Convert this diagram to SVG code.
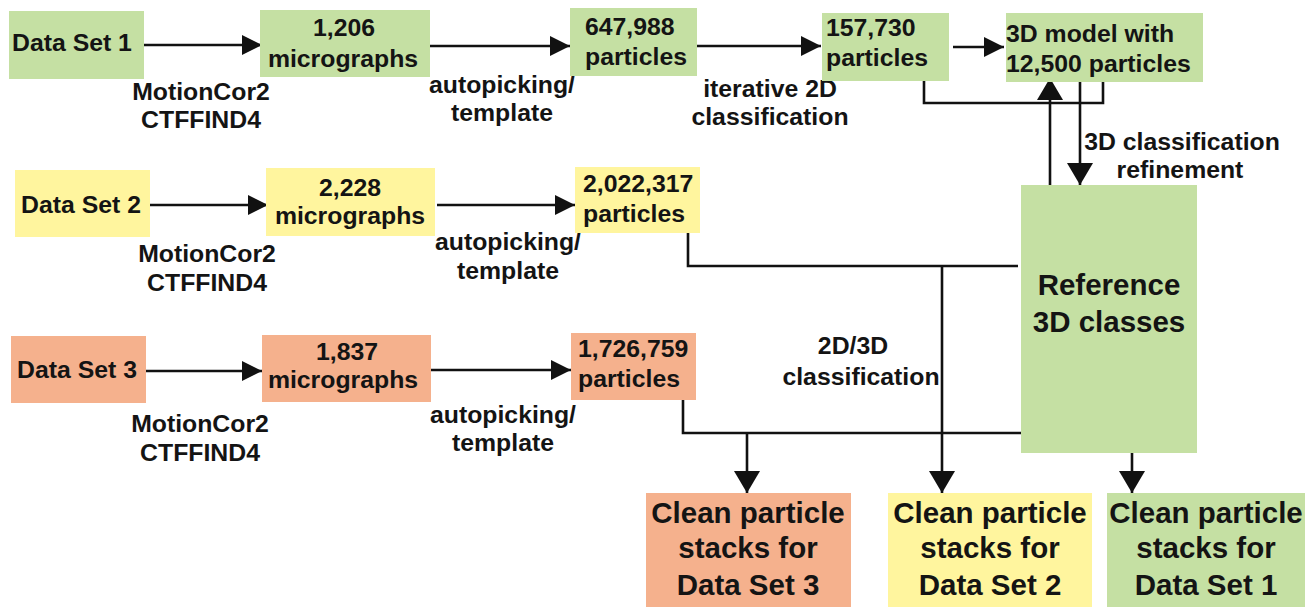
<svg xmlns="http://www.w3.org/2000/svg" width="1311" height="607" viewBox="0 0 1311 607">
<defs>
<style>
text{font-family:"Liberation Sans",Arial,sans-serif;font-weight:bold;fill:#141414;}
.t{font-size:24.8px;}
.b{font-size:29.5px;}
.m{text-anchor:middle;}
.g{fill:#c5e0a3;}
.y{fill:#fff59e;}
.o{fill:#f5b18d;}
.c{stroke:#111;stroke-width:2.6;fill:none;}
</style>
<marker id="ah" viewBox="0 0 20 20" refX="20" refY="10" markerUnits="userSpaceOnUse" markerWidth="20" markerHeight="20" orient="auto">
<path d="M0,0 L20,10 L0,20 z" fill="#111"/>
</marker>
<marker id="av" viewBox="0 0 22 26" refX="22" refY="13" markerUnits="userSpaceOnUse" markerWidth="22" markerHeight="26" orient="auto">
<path d="M0,0 L22,13 L0,26 z" fill="#111"/>
</marker>
</defs>

<g id="connectors">
<line class="c" x1="137" y1="45" x2="262" y2="45" marker-end="url(#ah)"/>
<line class="c" x1="430" y1="46" x2="570" y2="46" marker-end="url(#ah)"/>
<line class="c" x1="697" y1="46" x2="821" y2="46" marker-end="url(#ah)"/>
<line class="c" x1="953" y1="47" x2="1004" y2="47" marker-end="url(#ah)"/>
<polyline class="c" points="924,80 924,103 1103,103 1103,82"/>
<line class="c" x1="1050" y1="185" x2="1050" y2="78" marker-end="url(#av)"/>
<line class="c" x1="1080" y1="82" x2="1080" y2="185" marker-end="url(#av)"/>

<line class="c" x1="142" y1="205" x2="268" y2="205" marker-end="url(#ah)"/>
<line class="c" x1="437" y1="205" x2="575" y2="205" marker-end="url(#ah)"/>
<polyline class="c" points="688,228 688,266 1018,266"/>
<line class="c" x1="942" y1="266" x2="942" y2="493" marker-end="url(#av)"/>

<line class="c" x1="140" y1="371" x2="262" y2="371" marker-end="url(#ah)"/>
<line class="c" x1="431" y1="370" x2="571" y2="370" marker-end="url(#ah)"/>
<polyline class="c" points="683,400 683,433 1022,433"/>
<line class="c" x1="747" y1="433" x2="747" y2="493" marker-end="url(#av)"/>
<line class="c" x1="1132" y1="451" x2="1132" y2="493" marker-end="url(#av)"/>
</g>

<g id="labels">
<text class="t m" x="201" y="100">MotionCor2</text>
<text class="t m" x="201" y="128">CTFFIND4</text>
<text class="t m" x="502" y="93">autopicking/</text>
<text class="t m" x="502" y="121">template</text>
<text class="t m" x="770" y="97">iterative 2D</text>
<text class="t m" x="770" y="125">classification</text>
<text class="t m" x="1182" y="150">3D classification</text>
<text class="t m" x="1180" y="178">refinement</text>
<text class="t m" x="207" y="262">MotionCor2</text>
<text class="t m" x="207" y="291">CTFFIND4</text>
<text class="t m" x="508" y="250">autopicking/</text>
<text class="t m" x="508" y="279">template</text>
<text class="t m" x="200" y="432">MotionCor2</text>
<text class="t m" x="200" y="461">CTFFIND4</text>
<text class="t m" x="503" y="423">autopicking/</text>
<text class="t m" x="503" y="451">template</text>
<text class="t m" x="853" y="354">2D/3D</text>
<text class="t m" x="861" y="385">classification</text>
</g>

<g id="ds1"><rect class="g" x="9" y="11" width="135" height="68"/><text class="t" x="12" y="51">Data Set 1</text></g>
<g id="mic1"><rect class="g" x="260" y="10" width="170" height="67"/><text class="t m" x="344" y="36">1,206</text><text class="t m" x="343" y="67">micrographs</text></g>
<g id="par1"><rect class="g" x="570" y="8" width="127" height="68"/><text class="t" x="585" y="35">647,988</text><text class="t" x="585" y="65">particles</text></g>
<g id="par1b"><rect class="g" x="822" y="13" width="127" height="68"/><text class="t" x="826" y="36">157,730</text><text class="t" x="826" y="66">particles</text></g>
<g id="model"><rect class="g" x="1006" y="13" width="197" height="69"/><text class="t" x="1006" y="42">3D model with</text><text class="t" x="1006" y="72">12,500 particles</text></g>

<g id="ds2"><rect class="y" x="15" y="170" width="135" height="67"/><text class="t m" x="81" y="213">Data Set 2</text></g>
<g id="mic2"><rect class="y" x="266" y="168" width="169" height="68"/><text class="t m" x="350" y="196">2,228</text><text class="t m" x="350" y="224">micrographs</text></g>
<g id="par2"><rect class="y" x="575" y="167" width="125" height="66"/><text class="t" x="583" y="192">2,022,317</text><text class="t" x="583" y="222">particles</text></g>

<g id="ds3"><rect class="o" x="11" y="336" width="135" height="67"/><text class="t m" x="77" y="378">Data Set 3</text></g>
<g id="mic3"><rect class="o" x="262" y="335" width="169" height="67"/><text class="t m" x="347" y="360">1,837</text><text class="t m" x="343" y="388">micrographs</text></g>
<g id="par3"><rect class="o" x="571" y="333" width="125" height="67"/><text class="t" x="578" y="357">1,726,759</text><text class="t" x="578" y="387">particles</text></g>

<g id="ref"><rect class="g" x="1021" y="185" width="176" height="268"/><text class="b m" x="1109" y="295">Reference</text><text class="b m" x="1109" y="332">3D classes</text></g>

<g id="clean3"><rect class="o" x="646" y="493" width="205" height="114"/><text class="b m" x="748" y="523">Clean particle</text><text class="b m" x="748" y="558">stacks for</text><text class="b m" x="748" y="595">Data Set 3</text></g>
<g id="clean2"><rect class="y" x="888" y="493" width="204" height="114"/><text class="b m" x="990" y="523">Clean particle</text><text class="b m" x="990" y="558">stacks for</text><text class="b m" x="990" y="595">Data Set 2</text></g>
<g id="clean1"><rect class="g" x="1107" y="493" width="198" height="114"/><text class="b m" x="1206" y="523">Clean particle</text><text class="b m" x="1206" y="558">stacks for</text><text class="b m" x="1206" y="595">Data Set 1</text></g>
</svg>
